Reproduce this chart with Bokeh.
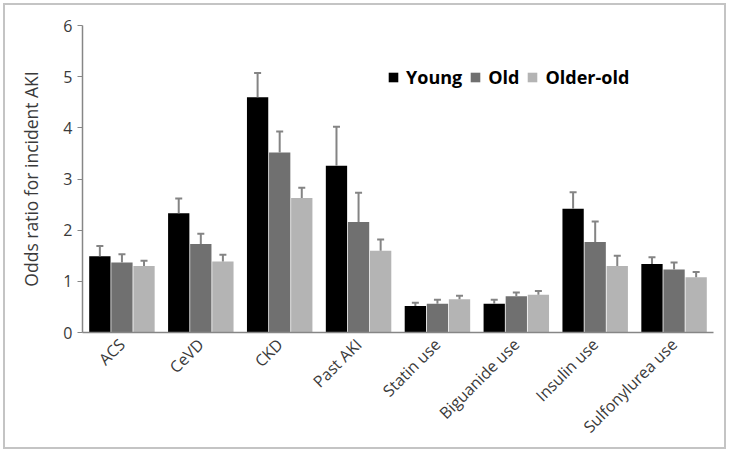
import math
from bokeh.plotting import figure
from bokeh.models import ColumnDataSource, FactorRange, Legend, LegendItem, Range1d, FixedTicker
from bokeh.transform import dodge
from bokeh.embed import file_html
from bokeh.resources import INLINE

categories = ["ACS", "CeVD", "CKD", "Past AKI", "Statin use", "Biguanide use", "Insulin use", "Sulfonylurea use"]
young = [1.49, 2.33, 4.60, 3.26, 0.52, 0.56, 2.42, 1.34]
young_upper = [1.69, 2.62, 5.07, 4.02, 0.58, 0.64, 2.74, 1.47]
old = [1.37, 1.73, 3.52, 2.16, 0.56, 0.71, 1.77, 1.23]
old_upper = [1.53, 1.93, 3.93, 2.73, 0.64, 0.78, 2.17, 1.37]
older_old = [1.30, 1.39, 2.63, 1.60, 0.65, 0.74, 1.30, 1.08]
older_old_upper = [1.40, 1.52, 2.83, 1.82, 0.72, 0.81, 1.50, 1.18]
series_names = ["Young", "Old", "Older-old"]
y_ticks = [0, 1, 2, 3, 4, 5, 6]

src = ColumnDataSource(dict(cat=categories, young=young, young_u=young_upper,
                            old=old, old_u=old_upper, oo=older_old, oo_u=older_old_upper))

FONT = "Open Sans"
TXT = "#3a3a3a"

p = figure(x_range=FactorRange(*categories), y_range=Range1d(0, 6),
           width=723, height=446, output_backend="svg", toolbar_location=None,
           min_border_left=77, min_border_right=15, min_border_top=20, min_border_bottom=119)
p.styles = {"border": "2px solid #c4c4c4", "margin": "3px"}
p.outline_line_color = None
p.grid.visible = False
p.background_fill_color = "white"

colors = ["#000000", "#707070", "#b4b4b4"]
cols = [("young", "young_u"), ("old", "old_u"), ("oo", "oo_u")]
offsets = [-0.28, 0.0, 0.28]
renderers = []
for (vc, uc), off, col in zip(cols, offsets, colors):
    r = p.vbar(x=dodge("cat", off, range=p.x_range), top=vc, width=0.27, source=src,
               fill_color=col, line_color=None)
    renderers.append(r)
    p.segment(x0=dodge("cat", off, range=p.x_range), y0=vc,
              x1=dodge("cat", off, range=p.x_range), y1=uc, source=src,
              line_color="#848484", line_width=2)
    p.scatter(x=dodge("cat", off, range=p.x_range), y=uc, source=src, marker="dash",
              size=7, line_color="#848484", line_width=2)

legend = Legend(items=[LegendItem(label=n, renderers=[r]) for n, r in zip(series_names, renderers)],
                orientation="horizontal", location=(305, 243),
                label_text_font=FONT, label_text_font_size="18px", label_text_font_style="bold",
                label_text_color="#000000", glyph_width=12, glyph_height=12,
                label_standoff=7, spacing=7, padding=0, margin=0,
                border_line_color=None, background_fill_alpha=0)
p.add_layout(legend, "center")

p.yaxis.ticker = FixedTicker(ticks=y_ticks)
p.yaxis.axis_label = "Odds ratio for incident AKI"
p.yaxis.axis_label_text_font = FONT
p.yaxis.axis_label_text_font_size = "17.5px"
p.yaxis.axis_label_text_font_style = "normal"
p.yaxis.axis_label_text_color = TXT
p.yaxis.axis_label_standoff = 17
p.yaxis.major_label_text_font = FONT
p.yaxis.major_label_text_font_size = "16px"
p.yaxis.major_label_text_color = TXT
p.yaxis.minor_tick_line_color = None
p.yaxis.major_tick_out = 5
p.yaxis.major_tick_in = 0
p.yaxis.major_tick_line_color = "#868686"
p.yaxis.axis_line_color = "#868686"
p.yaxis.axis_line_width = 1.5

p.xaxis.major_label_orientation = math.pi / 4
p.xaxis.major_label_text_font = FONT
p.xaxis.major_label_text_font_size = "16px"
p.xaxis.major_label_text_color = TXT
p.xaxis.major_tick_line_color = None
p.xaxis.axis_line_color = "#868686"
p.xaxis.axis_line_width = 1.5
p.xaxis.major_label_standoff = 3

open("out.html", "w").write(file_html(p, INLINE))
